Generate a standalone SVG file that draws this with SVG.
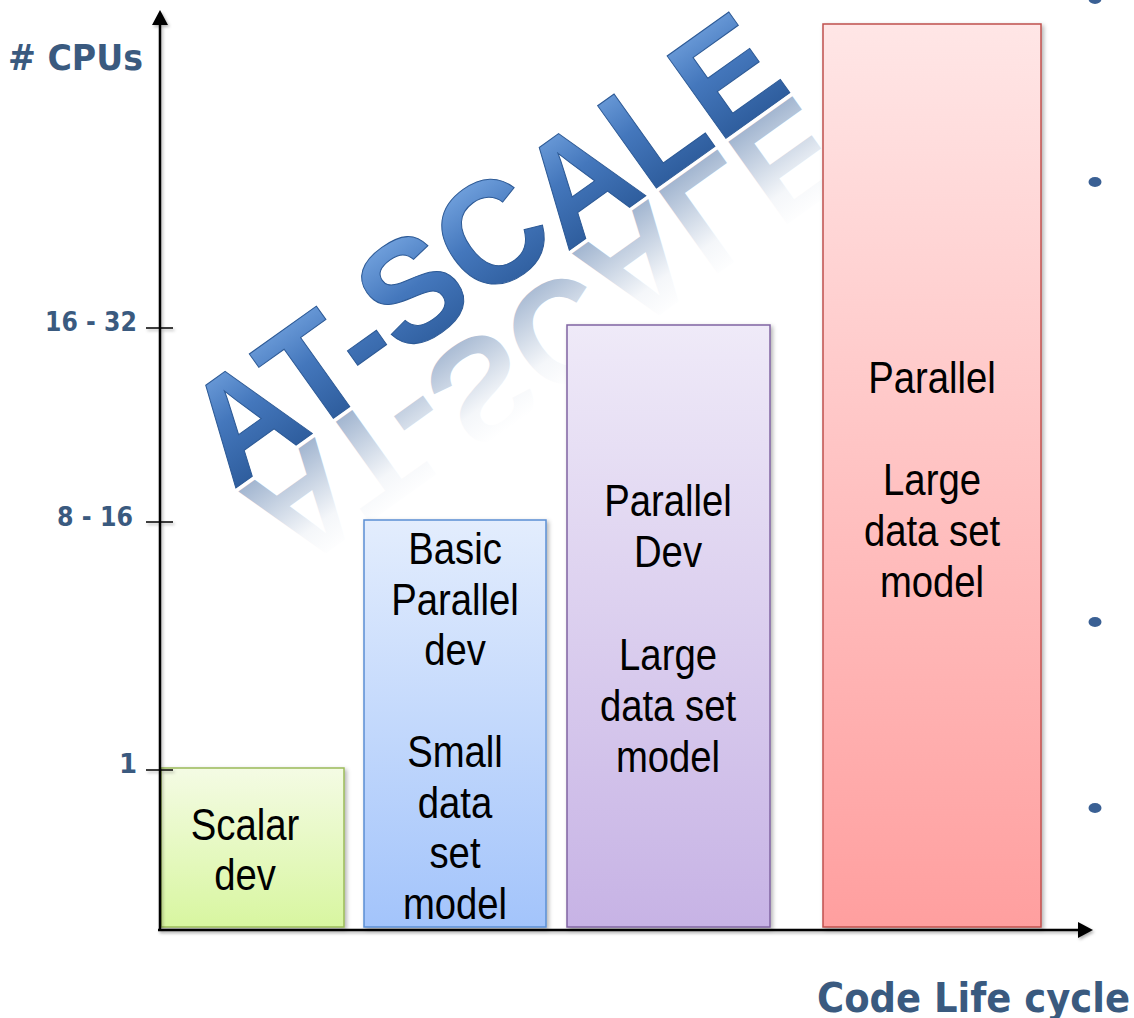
<svg xmlns="http://www.w3.org/2000/svg" width="1134" height="1018" viewBox="0 0 1134 1018">
<defs>
<style>
.lbl{font-family:"DejaVu Sans","Liberation Sans",sans-serif;font-weight:bold;fill:#3a5a7f}
.bt{font-family:"Liberation Sans","DejaVu Sans",sans-serif;font-size:44px;fill:#000;text-anchor:middle}
.axis{stroke:#000;stroke-width:2.5;fill:none}
.tick{stroke:#000;stroke-width:1.5}
.bullet{fill:#3a6094}
.word{font-family:"Liberation Sans",Arial,sans-serif;font-weight:bold;font-size:140px}
</style>
<linearGradient id="gGreen" x1="0" y1="0" x2="0" y2="1"><stop offset="0" stop-color="#f4fbe4"/><stop offset="1" stop-color="#d8f6a0"/></linearGradient>
<linearGradient id="gBlue" x1="0" y1="0" x2="0" y2="1"><stop offset="0" stop-color="#e3edfd"/><stop offset="1" stop-color="#a3c4fb"/></linearGradient>
<linearGradient id="gPurple" x1="0" y1="0" x2="0" y2="1"><stop offset="0" stop-color="#efeaf8"/><stop offset="1" stop-color="#c7b3e5"/></linearGradient>
<linearGradient id="gRed" x1="0" y1="0" x2="0" y2="1"><stop offset="0" stop-color="#ffe6e6"/><stop offset="1" stop-color="#ff9f9f"/></linearGradient>
<linearGradient id="gWord" gradientUnits="userSpaceOnUse" x1="0" y1="-105" x2="0" y2="0"><stop offset="0" stop-color="#6d9dda"/><stop offset="0.45" stop-color="#4477bc"/><stop offset="1" stop-color="#2f5e9e"/></linearGradient>
<linearGradient id="gRefl" gradientUnits="userSpaceOnUse" x1="0" y1="0" x2="0" y2="-105"><stop offset="0" stop-color="#4f74a6" stop-opacity="0.55"/><stop offset="0.7" stop-color="#4f74a6" stop-opacity="0.06"/><stop offset="1" stop-color="#4f74a6" stop-opacity="0"/></linearGradient>
<filter id="sh" x="-10%" y="-10%" width="130%" height="130%"><feDropShadow dx="2" dy="2" stdDeviation="2" flood-color="#000" flood-opacity="0.3"/></filter>
<filter id="lsh" x="-5%" y="-5%" width="110%" height="110%"><feDropShadow dx="1.5" dy="2" stdDeviation="1.5" flood-color="#000" flood-opacity="0.3"/></filter>
</defs>
<rect width="1134" height="1018" fill="#fff"/>

<g id="watermark" transform="translate(233,490) rotate(-35.5)">
<text class="word" x="0" y="-4" transform="scale(1,-1.05)" fill="url(#gRefl)"><tspan>AT-</tspan><tspan dy="-8">SC</tspan><tspan dy="8">ALE</tspan></text>
<text class="word" x="0" y="0" transform="scale(1,1.05)" fill="url(#gWord)" stroke="#2d5a96" stroke-width="1"><tspan>AT-</tspan><tspan dy="-8">SC</tspan><tspan dy="8">ALE</tspan></text>
</g>

<g id="scalar" filter="url(#sh)">
<rect x="161" y="768" width="183" height="159" fill="url(#gGreen)" stroke="#9bbb59" stroke-width="1.5"/>
</g>
<g id="scalar-text" transform="translate(245,0) scale(0.87,1)">
<text class="bt" x="0" y="840">Scalar</text>
<text class="bt" x="0" y="890">dev</text>
</g>

<g id="basic" filter="url(#sh)">
<rect x="364" y="520" width="182" height="407" fill="url(#gBlue)" stroke="#5b8fd4" stroke-width="1.5"/>
</g>
<g id="basic-text" transform="translate(455,0) scale(0.87,1)">
<text class="bt" x="0" y="564">Basic</text>
<text class="bt" x="0" y="615">Parallel</text>
<text class="bt" x="0" y="665">dev</text>
<text class="bt" x="0" y="767">Small</text>
<text class="bt" x="0" y="818">data</text>
<text class="bt" x="0" y="868">set</text>
<text class="bt" x="0" y="919">model</text>
</g>

<g id="parallel-dev" filter="url(#sh)">
<rect x="567" y="325" width="203" height="602" fill="url(#gPurple)" stroke="#8064a2" stroke-width="1.5"/>
</g>
<g id="parallel-dev-text" transform="translate(668,0) scale(0.87,1)">
<text class="bt" x="0" y="516">Parallel</text>
<text class="bt" x="0" y="567">Dev</text>
<text class="bt" x="0" y="670">Large</text>
<text class="bt" x="0" y="721">data set</text>
<text class="bt" x="0" y="772">model</text>
</g>

<g id="parallel" filter="url(#sh)">
<rect x="823" y="24" width="218" height="903" fill="url(#gRed)" stroke="#c0504d" stroke-width="1.5"/>
</g>
<g id="parallel-text" transform="translate(932,0) scale(0.87,1)">
<text class="bt" x="0" y="393">Parallel</text>
<text class="bt" x="0" y="495">Large</text>
<text class="bt" x="0" y="546">data set</text>
<text class="bt" x="0" y="597">model</text>
</g>

<g id="connectors" filter="url(#lsh)">
<line class="axis" x1="160" y1="930" x2="160" y2="24"/>
<polygon points="160,10 152,25 168,25" fill="#000"/>
<line class="axis" x1="158" y1="930" x2="1078" y2="930"/>
<polygon points="1093,930 1078,922 1078,938" fill="#000"/>
<line class="tick" x1="146" y1="328" x2="173" y2="328"/>
<line class="tick" x1="146" y1="522" x2="173" y2="522"/>
<line class="tick" x1="146" y1="770" x2="173" y2="770"/>
</g>

<g id="labels">
<text class="lbl" x="8" y="70" font-size="36" textLength="135" lengthAdjust="spacingAndGlyphs"># CPUs</text>
<text class="lbl" x="45" y="331" font-size="26" textLength="92" lengthAdjust="spacingAndGlyphs">16 - 32</text>
<text class="lbl" x="57" y="526" font-size="26" textLength="76" lengthAdjust="spacingAndGlyphs">8 - 16</text>
<text class="lbl" x="137" y="773" font-size="26" text-anchor="end">1</text>
<text class="lbl" x="817" y="1012" font-size="41" textLength="313" lengthAdjust="spacingAndGlyphs">Code Life cycle</text>
</g>

<g id="bullets">
<ellipse class="bullet" cx="1095" cy="-1" rx="6.5" ry="5"/>
<ellipse class="bullet" cx="1095" cy="182" rx="6.5" ry="5"/>
<ellipse class="bullet" cx="1095" cy="622" rx="6.5" ry="5"/>
<ellipse class="bullet" cx="1095" cy="808" rx="6.5" ry="5"/>
</g>
</svg>
